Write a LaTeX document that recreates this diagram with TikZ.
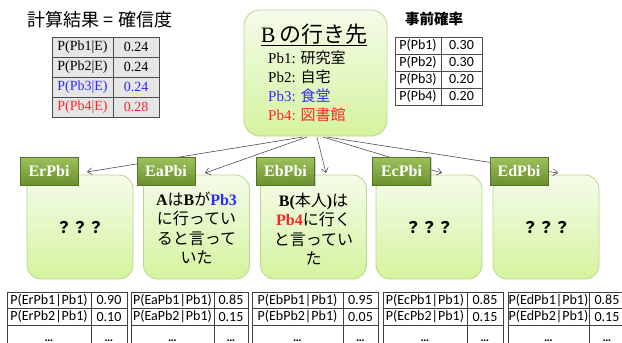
\documentclass[tikz,border=0pt]{standalone}
\usepackage{fontspec}
\setmainfont{Liberation Serif}
\newfontfamily\cjk{Noto Sans CJK JP}
\newfontfamily\cali{Carlito}
\usetikzlibrary{calc,shadows,arrows.meta}
\newcommand\J[1]{{\cjk #1}}
\definecolor{bodytop}{HTML}{F4FCEA}
\definecolor{bodybot}{HTML}{D5F39E}
\definecolor{bodyline}{HTML}{BAD78C}
\definecolor{labtop}{HTML}{9DC15B}
\definecolor{labbot}{HTML}{6A9030}
\definecolor{myblue}{HTML}{2B2BFF}
\definecolor{myred}{HTML}{FF2525}
\definecolor{tgray}{HTML}{E6E6E6}
\definecolor{arrowc}{HTML}{505050}
\newcommand\bottab[8]{%
  \node[bcell, minimum width={#3-#2}] (#1p1) at ({(#2+#3)/2},300.25) {P(#5Pb1|Pb1)};
  \node[bcell, minimum width={#4-#3}] (#1v1) at ({(#3+#4)/2},300.25) {#6};
  \node[bcell, minimum width={#3-#2}] (#1p2) at ({(#2+#3)/2},316.75) {P(#5Pb2|Pb1)};
  \node[bcell, minimum width={#4-#3}] (#1v2) at ({(#3+#4)/2},316.75) {#7};
  \node[bcell, minimum width={#3-#2}, minimum height=30] (#1p3) at ({(#2+#3)/2},340) {};
  \node[bcell, minimum width={#4-#3}, minimum height=30] (#1v3) at ({(#3+#4)/2},340) {};
  \node[dots] (#1d1) at ({(#2+#3)/2},341.5) {…};
  \node[dots] (#1d2) at ({(#3+#4)/2},341.5) {…};
}
\begin{document}
\begin{tikzpicture}[x=1pt,y=-1pt,
  bodybox/.style={draw=bodyline, line width=0.8pt, rounded corners=14pt,
    top color=bodytop, bottom color=bodybot, minimum width=106, minimum height=104},
  lab/.style={top color=labtop, bottom color=labbot, draw=labbot!80!black, line width=0.3pt,
    minimum width=58, minimum height=28, inner sep=0pt, text=white,
    font=\fontsize{16}{18}\selectfont\bfseries,
    drop shadow={opacity=0.35, shadow xshift=1pt, shadow yshift=-1.2pt}},
  arr/.style={draw=arrowc, line width=0.6pt, -{Straight Barb[length=4.5pt,width=7pt]}},
  btext/.style={align=center, font=\fontsize{16}{19.5}\selectfont, inner sep=0pt},
  bcell/.style={draw=black!75, line width=0.6pt, minimum height=16.5, inner sep=0pt,
    font=\cali\fontsize{14}{16}\selectfont},
  dots/.style={anchor=base, inner sep=0pt, font=\cali\fontsize{12}{14}\selectfont\bfseries},
  tcell/.style={draw=black!70, line width=0.8pt, fill=tgray, minimum height=20, inner sep=0pt,
    font=\fontsize{14}{16}\selectfont},
  rcell/.style={draw=black!70, line width=0.6pt, minimum height=17, inner sep=0pt,
    font=\cali\fontsize{14}{16}\selectfont},
  mline/.style={anchor=base west, inner sep=0pt, font=\fontsize{15}{17}\selectfont}
]
\useasboundingbox (0,0) rectangle (622,343);
\fill[white] (0,0) rectangle (622,343);

% top-left title and table
\node[inner sep=0pt, font=\cjk\fontsize{18}{20}\selectfont] (ttl) at (100,20) {計算結果\hspace{5pt}=\hspace{5pt}確信度};
\node[tcell, minimum width=61] (c1a) at (82.5,47) {P(Pb1|E)};
\node[tcell, minimum width=46] (c1b) at (136,47) {0.24};
\node[tcell, minimum width=61] (c2a) at (82.5,67) {P(Pb2|E)};
\node[tcell, minimum width=46] (c2b) at (136,67) {0.24};
\node[tcell, minimum width=61, text=myblue] (c3a) at (82.5,87) {P(Pb3|E)};
\node[tcell, minimum width=46, text=myblue] (c3b) at (136,87) {0.24};
\node[tcell, minimum width=61, text=myred] (c4a) at (82.5,107) {P(Pb4|E)};
\node[tcell, minimum width=46, text=myred] (c4b) at (136,107) {0.28};

% top-right prior table
\node[inner sep=0pt, font=\cjk\fontsize{14.5}{16}\selectfont\bfseries] (pri) at (434,19) {事前確率};
\node[rcell, minimum width=46] (r1a) at (418,45.5) {P(Pb1)};
\node[rcell, minimum width=41] (r1b) at (461.5,45.5) {0.30};
\node[rcell, minimum width=46] (r2a) at (418,62.5) {P(Pb2)};
\node[rcell, minimum width=41] (r2b) at (461.5,62.5) {0.30};
\node[rcell, minimum width=46] (r3a) at (418,79.5) {P(Pb3)};
\node[rcell, minimum width=41] (r3b) at (461.5,79.5) {0.20};
\node[rcell, minimum width=46] (r4a) at (418,96.5) {P(Pb4)};
\node[rcell, minimum width=41] (r4b) at (461.5,96.5) {0.20};

% main box
\node[bodybox, minimum width=143, minimum height=126, rounded corners=16pt] (main) at (315.5,73) {};
\node[anchor=base, inner sep=0pt, font=\fontsize{22}{24}\selectfont] (mt) at (314,42)
  {\underline{\hbox{B\,{\cjk の行き先}}}};
\node[mline] (m1) at (268,63) {Pb1:\hspace{5pt}\J{研究室}};
\node[mline] (m2) at (268,82) {Pb2:\hspace{5pt}\J{自宅}};
\node[mline, text=myblue] (m3) at (268,101) {Pb3:\hspace{5pt}\J{食堂}};
\node[mline, text=myred] (m4) at (268,120) {Pb4:\hspace{5pt}\J{図書館}};

% bodies
\node[bodybox] (er) at (80,227) {};
\node[bodybox] (ea) at (196.5,227) {};
\node[bodybox] (eb) at (313.5,227) {};
\node[bodybox] (ec) at (429,227) {};
\node[bodybox] (ed) at (546,227) {};

\node[btext, font=\cjk\bfseries\fontsize{16}{19.5}\selectfont] (ert) at (80,228) {？？？};
\node[btext] (eat) at (196.5,228) {\textbf{A}\J{は}\textbf{B}\J{が}\textbf{\color{myblue}Pb3}\\\J{に行ってい}\\\J{ると言って}\\\J{いた}};
\node[btext] (ebt) at (313.5,229) {\textbf{B(}\J{本人}\textbf{)}\J{は}\\\textbf{\color{myred}Pb4}\J{に行く}\\\J{と言ってい}\\\J{た}};
\node[btext, font=\cjk\bfseries\fontsize{16}{19.5}\selectfont] (ect) at (429,228) {？？？};
\node[btext, font=\cjk\bfseries\fontsize{16}{19.5}\selectfont] (edt) at (546,228) {？？？};

% arrow start points
\coordinate (s1) at (303,137);
\coordinate (s2) at (307,137);
\coordinate (s3) at (317,137);
\coordinate (s4) at (323,137);
\coordinate (s5) at (327,137);
\coordinate (t1) at (87,172);
\coordinate (t2) at (205,173);
\coordinate (t3) at (326,173);
\coordinate (t4) at (442,173);
\coordinate (t5) at (558,173);
\draw[arr] (s1) -- (t1);
\draw[arr] (s2) -- (t2);
\draw[arr] (s3) -- (t3);
\draw[arr] (s4) -- (t4);
\draw[arr] (s5) -- (t5);

% labels
\node[lab] (erl) at (49,171) {ErPbi};
\node[lab] (eal) at (166,171) {EaPbi};
\node[lab] (ebl) at (285.5,171) {EbPbi};
\node[lab] (ecl) at (401.5,171) {EcPbi};
\node[lab] (edl) at (519,171) {EdPbi};

% bottom tables
\bottab{ta}{7}{91}{127}{Er}{0.90}{0.10}{}
\bottab{tb}{131}{214}{248}{Ea}{0.85}{0.15}{}
\bottab{tc}{252}{343}{378}{Eb}{0.95}{0.05}{}
\bottab{td}{383}{467}{503}{Ec}{0.85}{0.15}{}
\bottab{te}{508}{589}{625}{Ed}{0.85}{0.15}{}
\end{tikzpicture}
\end{document}
